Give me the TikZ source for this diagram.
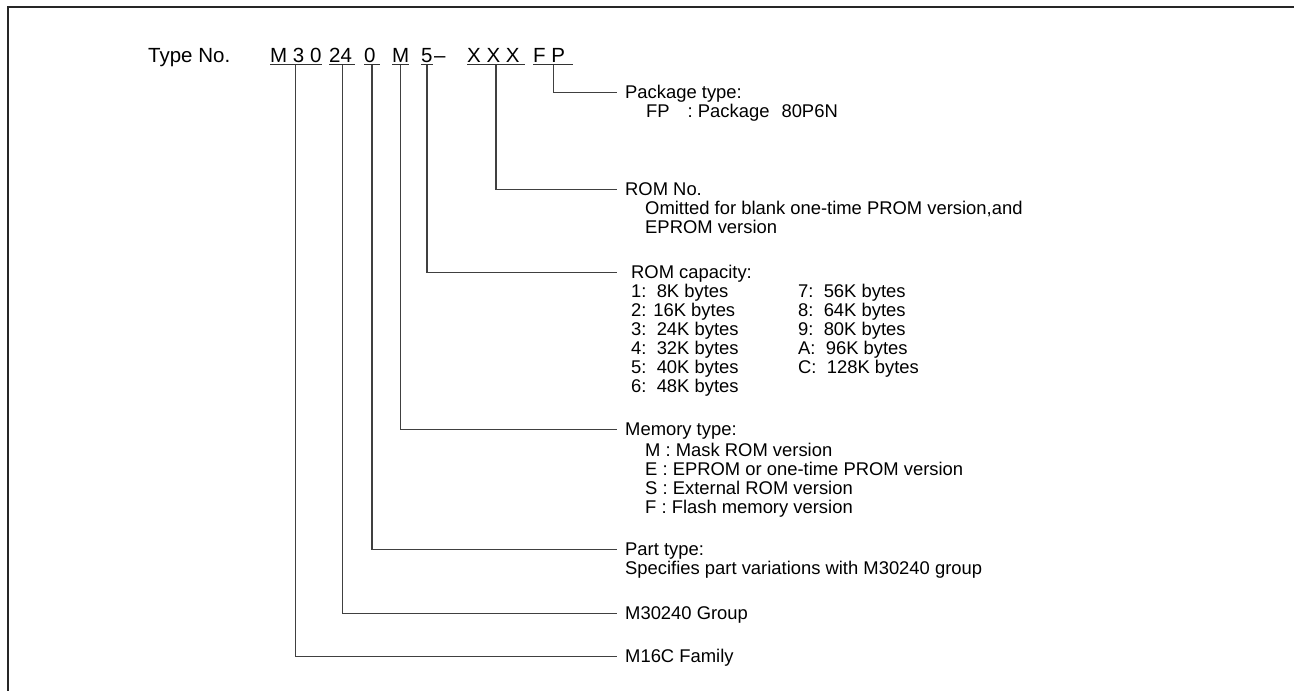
\documentclass[tikz,border=0pt]{standalone}
\usepackage{fontspec}
\setmainfont{Liberation Sans}
\usepackage{tikz}
\usetikzlibrary{calc,positioning}
\newcommand{\rows}[1]{\begin{tabular}[t]{@{}l@{}}#1\end{tabular}}
\tikzset{
  frame/.style={line width=2pt,black!85},
  lead/.style={line width=1.2pt,black!75,shorten >=8pt},
  digit/.style={inner xsep=0pt,inner ysep=0pt,text height=15pt,text depth=2.5pt,font=\fontsize{20.5}{24}\selectfont,anchor=base west},
  uline/.style={line width=1.1pt,black!80},
  title/.style={inner sep=0pt,text height=13pt,text depth=1pt,font=\fontsize{18.4}{19}\selectfont,anchor=west},
  body/.style={inner sep=0pt,font=\fontsize{18.4}{19}\selectfont,anchor=base west}
}
\begin{document}
\begin{tikzpicture}[x=1pt,y=-1pt]
\useasboundingbox (0,0) rectangle (1294,691);
\draw[frame] (1294,7) -- (8,7) -- (8,691);
% type number
\node[digit] (typ) at (148,62) {Type No.};
\node[digit] (fam) at (270,62) {M 3 0};
\node[digit] (grp) at (329,62) {24\hspace{3pt}\mbox{}};
\node[digit] (part) at (364,62) {0\hspace{4pt}\mbox{}};
\node[digit] (mem) at (392,62) {M};
\node[digit] (cap) at (421,62) {5};
\node[digit] (dash) at (434,62) {--};
\node[digit] (rom) at (467,62) {X X X\hspace{5pt}\mbox{}};
\node[digit] (pkg) at (533,62) {F P\hspace{8pt}\mbox{}};
\foreach \n in {fam,grp,part,mem,cap,rom,pkg}
  \draw[uline] (\n.south west) -- (\n.south east);
% field titles
\node[title] (pkgT) at (625,92.7) {Package type:};
\node[title] (romT) at (625,189.3) {ROM No.};
\node[title] (capT) at (631,272.7) {ROM capacity:};
\node[title] (memT) at (625,429.3) {Memory type:};
\node[title] (partT) at (625,549.3) {Part type:};
\node[title] (grpT) at (625,613.3) {M30240 Group};
\node[title] (famT) at (625,656.7) {M16C Family};
% field texts
\node[body] (pkgB) at ([shift={(21pt,-19pt)}]pkgT.base west) {FP\hspace{18pt}: Package\hspace{12pt}80P6N};
\node[body] (romB) at ([shift={(20pt,-19pt)}]romT.base west) {\rows{Omitted for blank one-time PROM version,and\\EPROM version}};
\node[body] (capL) at ([shift={(0pt,-19pt)}]capT.base west) {\rows{1:\ \ 8K bytes\\2: 16K bytes\\3:\ \ 24K bytes\\4:\ \ 32K bytes\\5:\ \ 40K bytes\\6:\ \ 48K bytes}};
\node[body] (capR) at ([shift={(167pt,-19pt)}]capT.base west) {\rows{7:\ \ 56K bytes\\8:\ \ 64K bytes\\9:\ \ 80K bytes\\A:\ \ 96K bytes\\C:\ \ 128K bytes}};
\node[body] (memB) at ([shift={(20pt,-21pt)}]memT.base west) {\rows{M : Mask ROM version\\E : EPROM or one-time PROM version\\S : External ROM version\\F : Flash memory version}};
\node[body] (partB) at ([shift={(0pt,-19pt)}]partT.base west) {Specifies part variations with M30240 group};
% leads
\draw[lead] (pkg.south) |- (pkgT.west);
\draw[lead] (rom.south) |- (romT.west);
\draw[lead,shorten >=14pt] (cap.south) |- (capT.west);
\draw[lead] (mem.south) |- (memT.west);
\draw[lead] (part.south) |- (partT.west);
\draw[lead] (grp.south) |- (grpT.west);
\draw[lead] (fam.south) |- (famT.west);
\end{tikzpicture}
\end{document}
